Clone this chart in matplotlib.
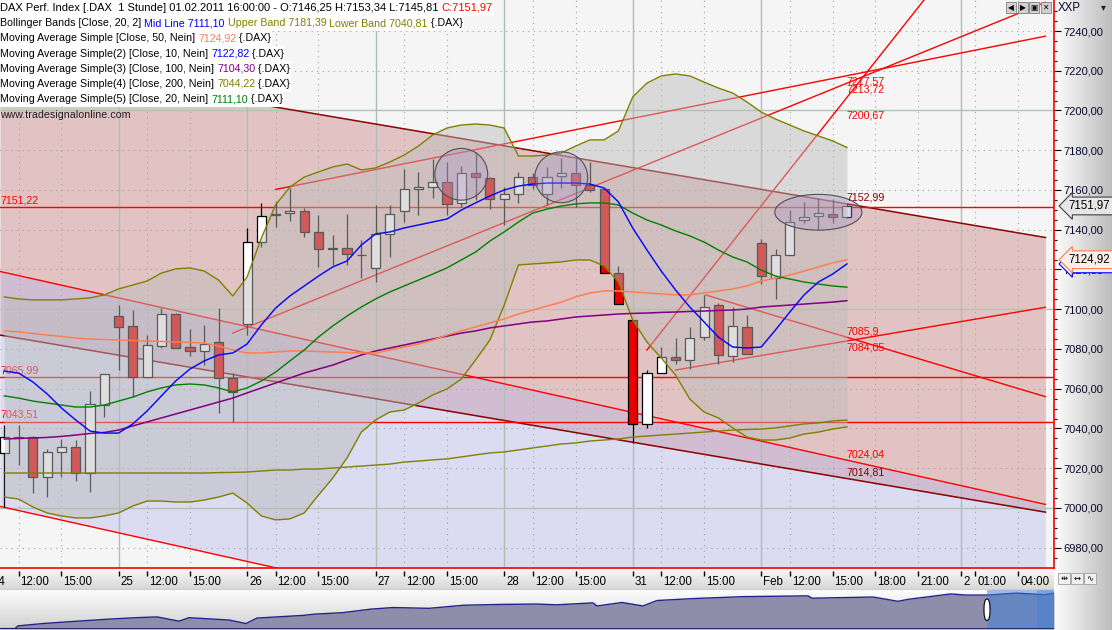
import matplotlib
matplotlib.use('Agg')
import matplotlib.pyplot as plt
import matplotlib.transforms as mtransforms
from matplotlib.patches import Ellipse, Rectangle, FancyBboxPatch
import numpy as np

FONT = 'Liberation Sans'
FS = 7.7
W, H = 1112, 630
plt.rcParams['font.family'] = [FONT, 'DejaVu Sans']

# hourly DAX candles, 24.01.2011 11:00 ... 01.02.2011 16:00 (bar index 0..59)
opens = [7027.5, 7035.9, 7035.9, 7015.4, 7028.0, 7030.5, 7017.5, 7051.8, 7096.6, 7091.6,
         7066.1, 7081.7, 7097.5, 7080.9, 7078.8, 7083.4, 7065.3, 7092.4, 7134.0, 7147.8,
         7148.3, 7149.4, 7139.0, 7130.6, 7130.7, 7127.4, 7120.6, 7137.7, 7149.4, 7160.4,
         7161.7, 7164.2, 7153.3, 7168.7, 7166.2, 7155.3, 7158.0, 7166.7, 7158.0, 7167.0,
         7168.4, 7162.5, 7160.4, 7118.4, 7094.6, 7042.1, 7067.8, 7076.1, 7074.5, 7085.9,
         7102.1, 7076.5, 7090.9, 7133.2, 7115.6, 7127.3, 7144.9, 7146.9, 7147.7, 7146.25]
highs = [7041.8, 7041.8, 7036.2, 7029.5, 7034.7, 7034.2, 7059.0, 7067.4, 7102.1, 7099.6,
         7087.0, 7100.5, 7098.1, 7090.1, 7092.1, 7100.6, 7068.1, 7140.7, 7153.6, 7154.1,
         7160.9, 7150.8, 7147.4, 7137.4, 7147.9, 7134.8, 7152.5, 7152.5, 7170.4, 7169.2,
         7175.5, 7174.2, 7172.1, 7179.3, 7166.7, 7161.4, 7168.9, 7168.4, 7171.7, 7175.9,
         7176.8, 7174.2, 7160.4, 7121.8, 7094.6, 7069.4, 7080.9, 7085.4, 7091.2, 7107.2,
         7103.0, 7101.3, 7097.1, 7135.2, 7130.2, 7149.9, 7154.1, 7155.8, 7155.3, 7153.34]
lows = [7000.7, 7021.6, 7007.4, 7005.4, 7015.4, 7013.7, 7008.2, 7045.9, 7069.4, 7055.7,
        7066.1, 7080.4, 7080.4, 7076.5, 7072.0, 7047.6, 7043.4, 7087.0, 7131.5, 7141.5,
        7144.6, 7136.5, 7121.4, 7122.3, 7122.3, 7115.6, 7113.9, 7126.4, 7144.1, 7147.4,
        7155.8, 7147.4, 7151.6, 7155.0, 7150.3, 7142.4, 7153.6, 7160.4, 7152.5, 7160.9,
        7151.3, 7159.2, 7118.4, 7102.6, 7032.6, 7040.1, 7067.8, 7072.5, 7069.8, 7084.5,
        7072.5, 7073.6, 7077.5, 7112.7, 7105.0, 7127.3, 7143.2, 7139.9, 7143.2, 7145.81]
closes = [7035.9, 7035.3, 7015.4, 7028.0, 7030.5, 7017.5, 7052.2, 7067.3, 7091.2, 7066.1,
          7081.9, 7097.5, 7080.7, 7078.8, 7082.5, 7065.3, 7058.5, 7134.0, 7146.9, 7147.6,
          7149.4, 7139.0, 7130.2, 7130.3, 7127.8, 7127.2, 7137.7, 7147.8, 7160.4, 7161.7,
          7164.2, 7153.0, 7168.7, 7166.4, 7155.3, 7157.8, 7166.7, 7162.5, 7166.7, 7168.4,
          7162.5, 7160.0, 7118.4, 7102.6, 7042.1, 7067.8, 7076.1, 7074.5, 7085.4, 7101.3,
          7077.0, 7091.6, 7077.5, 7116.7, 7127.1, 7144.1, 7146.6, 7148.3, 7146.6, 7151.97]

bb_upper = [7106.2, 7105.2, 7104.7, 7104.7, 7104.7, 7105.2, 7105.7, 7107.2, 7110.2, 7112.2,
            7114.2, 7118.2, 7120.3, 7120.8, 7119.2, 7114.7, 7106.7, 7116.2, 7135.8, 7152.5,
            7161.5, 7166.5, 7169.1, 7171.6, 7173.1, 7170.1, 7171.1, 7174.1, 7177.6, 7182.1,
            7187.7, 7191.2, 7192.7, 7193.2, 7192.7, 7191.2, 7177.1, 7177.1, 7177.6, 7178.6,
            7182.1, 7185.2, 7185.2, 7189.7, 7206.8, 7213.8, 7217.4, 7218.4, 7217.4, 7214.3,
            7211.3, 7208.8, 7204.3, 7199.2, 7195.7, 7192.7, 7189.7, 7187.2, 7184.7, 7181.39]
bb_lower = [7005.5, 7004.5, 7000.5, 6997.5, 6996.0, 6995.0, 6995.0, 6996.0, 6997.5, 7001.0,
            7003.5, 7003.5, 7003.0, 7003.0, 7004.0, 7005.5, 7007.5, 7002.5, 6996.0, 6994.0,
            6994.5, 6997.5, 7006.5, 7015.1, 7025.2, 7038.2, 7044.3, 7048.3, 7049.3, 7052.8,
            7056.9, 7059.9, 7064.9, 7074.5, 7084.5, 7102.0, 7122.3, 7122.8, 7123.3, 7123.8,
            7124.8, 7124.8, 7121.8, 7113.7, 7094.6, 7083.5, 7075.5, 7066.9, 7054.8, 7048.3,
            7045.3, 7040.3, 7035.7, 7034.2, 7034.2, 7035.2, 7037.2, 7038.2, 7039.7, 7040.81]
sma10 = [7068.9, 7067.9, 7063.4, 7057.4, 7050.3, 7044.3, 7038.7, 7037.7, 7037.7, 7042.3,
         7048.8, 7056.4, 7063.9, 7069.9, 7074.0, 7077.0, 7078.0, 7082.5, 7092.1, 7100.6,
         7106.7, 7111.7, 7116.7, 7121.3, 7124.3, 7132.3, 7137.9, 7138.9, 7140.9, 7142.4,
         7143.9, 7145.4, 7149.9, 7153.5, 7157.0, 7160.0, 7162.0, 7163.0, 7163.5, 7163.5,
         7163.5, 7163.0, 7161.0, 7154.0, 7140.9, 7129.8, 7119.2, 7109.7, 7101.1, 7093.6,
         7086.0, 7081.0, 7080.5, 7081.0, 7089.6, 7098.6, 7107.2, 7113.7, 7117.7, 7122.82]
sma20 = [7056.4, 7055.3, 7053.8, 7052.8, 7051.8, 7050.8, 7050.8, 7051.8, 7053.8, 7055.8,
         7058.4, 7060.4, 7061.9, 7062.4, 7061.9, 7060.4, 7058.4, 7060.4, 7063.9, 7068.4,
         7074.0, 7079.5, 7086.0, 7091.6, 7096.6, 7101.1, 7105.2, 7108.7, 7111.7, 7114.7,
         7117.7, 7120.8, 7124.8, 7128.8, 7134.3, 7138.9, 7143.9, 7148.4, 7150.4, 7151.9,
         7153.0, 7153.5, 7153.5, 7152.5, 7148.4, 7144.9, 7142.4, 7139.4, 7136.9, 7133.8,
         7129.8, 7126.3, 7123.8, 7119.7, 7116.7, 7115.2, 7113.7, 7112.7, 7111.7, 7111.10]
sma50 = [7089.1, 7088.6, 7087.8, 7087.0, 7086.3, 7085.5, 7085.0, 7084.8, 7084.5, 7084.3,
         7084.0, 7083.8, 7083.5, 7083.3, 7083.0, 7081.5, 7079.5, 7078.0, 7078.0, 7078.5,
         7079.0, 7079.0, 7078.7, 7078.5, 7078.2, 7078.0, 7078.0, 7079.5, 7081.0, 7082.5,
         7084.5, 7087.0, 7089.1, 7091.1, 7093.1, 7095.1, 7097.6, 7099.6, 7101.6, 7103.6,
         7106.2, 7108.2, 7109.2, 7109.2, 7108.7, 7108.2, 7107.7, 7107.2, 7107.2, 7108.2,
         7109.2, 7110.2, 7111.7, 7114.2, 7115.7, 7117.2, 7119.2, 7121.3, 7123.3, 7124.92]
sma100 = [7034.7, 7035.0, 7035.2, 7035.5, 7036.0, 7036.7, 7037.5, 7038.0, 7039.2, 7041.3,
          7043.3, 7045.3, 7047.3, 7049.3, 7051.3, 7053.3, 7055.3, 7057.9, 7060.4, 7062.9,
          7065.4, 7067.9, 7069.9, 7071.9, 7074.5, 7077.0, 7079.0, 7080.5, 7082.0, 7083.5,
          7085.0, 7086.5, 7088.0, 7089.1, 7090.6, 7091.6, 7092.6, 7093.6, 7094.1, 7095.1,
          7096.1, 7096.6, 7097.1, 7097.6, 7097.9, 7098.1, 7098.4, 7098.6, 7098.9, 7099.1,
          7099.4, 7099.6, 7100.1, 7101.1, 7101.6, 7102.1, 7102.6, 7103.1, 7103.6, 7104.30]
sma200 = [7017.6, 7017.6, 7017.6, 7017.6, 7017.6, 7017.6, 7017.6, 7017.6, 7017.6, 7017.6,
          7017.6, 7017.6, 7017.6, 7017.6, 7017.6, 7017.8, 7017.9, 7018.1, 7018.6, 7019.1,
          7019.1, 7019.6, 7019.6, 7020.1, 7020.6, 7021.1, 7021.6, 7022.1, 7023.1, 7023.6,
          7024.2, 7024.7, 7025.7, 7026.7, 7027.7, 7028.2, 7029.2, 7030.2, 7031.2, 7032.2,
          7032.7, 7033.7, 7034.2, 7034.7, 7035.7, 7036.2, 7036.7, 7037.2, 7037.7, 7038.2,
          7038.7, 7039.2, 7039.5, 7039.7, 7040.3, 7041.3, 7042.3, 7042.8, 7043.8, 7044.22]

# drawn trend lines: (bar_from, price_from, bar_to, price_to)
chan_pink = [(-0.3, 7225.2, 72.9, 7136.1), (-0.3, 7087.0, 72.9, 6997.9)]
chan_blue = [(-0.3, 7119.0, 72.9, 7001.8), (-0.3, 7000.8, 72.9, 6883.6)]
red_lines = [(19.0, 7160.3, 72.9, 7237.4), (16.0, 7088.0, 72.9, 7254.4),
             (45.0, 7079.5, 64.4, 7255.6), (49.1, 7107.2, 72.9, 7056.0),
             (47.0, 7069.4, 72.9, 7101.0)]
h_levels = [7151.22, 7065.99, 7043.51]
h_texts = ['7151,22', '7065,99', '7043,51']
# labels at the last bar: text, value, vertical alignment, colour
line_labels = [('7217,57', 7217.57, 'top', '#ff0000'), ('7213,72', 7213.72, 'top', '#ff0000'),
               ('7200,67', 7200.67, 'top', '#ff0000'), ('7152,99', 7152.99, 'bottom', '#8b0000'),
               ('7085,9', 7085.9, 'bottom', '#ff0000'), ('7084,05', 7084.05, 'top', '#ff0000'),
               ('7024,04', 7024.04, 'bottom', '#ff0000'), ('7014,81', 7014.81, 'bottom', '#8b0000')]
# marked zones: (bar, price, width in bars, height in points)
zones = [(32.0, 7167.9, 3.7, 26.0), (39.0, 7166.4, 3.7, 25.6), (57.0, 7148.8, 6.1, 18.0)]

tick_bars = [-1, 1, 4, 8, 10, 13, 17, 19, 22, 26, 28, 31, 35, 37, 40, 44, 46, 49, 53, 55, 58,
             61, 64, 67, 68, 71]
tick_text = ['24', '12:00', '15:00', '25', '12:00', '15:00', '26', '12:00', '15:00', '27', '12:00',
             '15:00', '28', '12:00', '15:00', '31', '12:00', '15:00', 'Feb', '12:00', '15:00',
             '18:00', '21:00', '2', '01:00', '04:00']

# navigator (whole history, arbitrary time units / scaled level)
nav_t = [0, 15, 18, 43, 71, 107, 136, 157, 179, 189, 229, 246, 257, 304, 314, 343, 371, 393, 429,
         464, 500, 536, 557, 593, 597, 622, 643, 657, 693, 743, 808, 812, 873, 898, 908, 951,
         966, 987, 1016, 1045, 1054]
nav_v = [1, 1, 8, 14, 19, 25, 29, 31, 20, 29, 23, 14, 28, 35, 38, 42, 51, 55, 53, 61, 63, 64,
         62, 67, 59, 68, 59, 73, 78, 83, 85, 79, 82, 71, 76, 90, 87, 87, 92, 88, 92]

fig = plt.figure(figsize=(W / 100, H / 100), dpi=100)
fig.patch.set_facecolor('#dcdcdc')


def box(x0, y0, x1, y1):
    return fig.add_axes([x0 / W, 1 - y1 / H, (x1 - x0) / W, (y1 - y0) / H])


# right price panel background
axr = box(1054, 0, W, H)
axr.imshow(np.linspace(0.99, 0.74, 60)[None, :], cmap='gray', vmin=0, vmax=1,
           aspect='auto', extent=(0, 1, 0, 1))
axr.axis('off')
axr.set_zorder(0)

ax = box(0, 0, 1054, 568)
ax.set_zorder(2)
ax.set_facecolor('#f5f5f5')
XL = (-0.3, 73.5)
ax.set_xlim(*XL)
ax.set_ylim(6969.8, 7255.6)

# channels
(a0, a1, a2, a3), (b0, b1, b2, b3) = chan_pink
ax.fill_between([a0, a2], [a1, a3], [b1, b3], color='#be6464', alpha=0.34, lw=0, zorder=1)
(c0, c1, c2, c3), (d0, d1, d2, d3) = chan_blue
ax.fill_between([c0, c2], [c1, c3], [d1, d3], color='#b4b4eb', alpha=0.39, lw=0, zorder=1.05)
for (x0, y0, x1, y1) in chan_pink:
    ax.plot([x0, x1], [y0, y1], color='#8b0000', lw=1.1, zorder=2)
for (x0, y0, x1, y1) in chan_blue + red_lines:
    ax.plot([x0, x1], [y0, y1], color='#ff0000', lw=1.0, zorder=2)

# grid
for v in range(6980, 7256, 20):
    if v % 100 == 0:
        ax.axhline(v, color='#b2c4b2', lw=1, zorder=1.2)
    else:
        ax.axhline(v, color='#a2a2a2', lw=0.8, ls=(0, (1, 4)), zorder=1.2)
for b, t in zip(tick_bars, tick_text):
    if ':' in t:
        ax.axvline(b, color='#a2a2a2', lw=0.8, ls=(0, (1, 4)), zorder=1.2)
    else:
        ax.axvline(b, color='#b2bcb2', lw=1, zorder=1.2)

for v, t in zip(h_levels, h_texts):
    ax.axhline(v, color='#ff0000', lw=1.0, zorder=2)
    ax.text(-0.3, v + 0.8, t, color='#ff0000', fontsize=FS, ha='left', va='bottom', zorder=2.2)

# candles
idx = np.arange(len(closes))
o = np.array(opens)
c = np.array(closes)
up = c >= o
ax.vlines(idx, lows, highs, color='black', lw=0.9, zorder=3)
ax.bar(idx, np.abs(c - o), bottom=np.minimum(o, c), width=0.64,
       color=np.where(up, 'white', '#e80000'), edgecolor='black', linewidth=0.9, zorder=3.1)

# bollinger bands and moving averages
ax.fill_between(idx, bb_lower, bb_upper, color='#bbbbbb', alpha=0.48, lw=0, zorder=4)
ax.plot(idx, bb_upper, color='#808000', lw=1, zorder=5)
ax.plot(idx, bb_lower, color='#808000', lw=1, zorder=5)
ax.plot(idx, sma200, color='#808000', lw=1, zorder=5)
ax.plot(idx, sma100, color='#800080', lw=1.1, zorder=5)
ax.plot(idx, sma50, color='#ff7f50', lw=1.1, zorder=5)
ax.plot(idx, sma20, color='#008000', lw=1, zorder=5)
ax.plot(idx, sma10, color='#0000ff', lw=1, zorder=5)

for (x, y, w, h) in zones:
    ax.add_patch(Ellipse((x, y), w, h, facecolor='#a898c8', alpha=0.35, edgecolor='none', zorder=6))
    ax.add_patch(Ellipse((x, y), w, h, facecolor='none', edgecolor='#505050', lw=0.8, zorder=6))

for t, v, va, col in line_labels:
    ax.text(59.0, v + (0.6 if va == 'bottom' else -0.6), t, color=col, fontsize=FS,
            ha='left', va=va, zorder=7)

# axis styling
ax.yaxis.tick_right()
yt = np.arange(6980, 7241, 20)
ax.set_yticks(yt)
ax.set_yticklabels([f"{v:.2f}".replace('.', ',') for v in yt])
ax.set_yticks(np.arange(6975, 7255, 5), minor=True)
ax.tick_params(axis='y', which='major', length=5, width=0.8, pad=2, labelsize=FS + 0.3,
               labelcolor='#0a0a2a', color='black')
ax.tick_params(axis='y', which='minor', length=2.5, width=0.8, color='black')
ax.set_xticks([])
for s in ['top', 'left']:
    ax.spines[s].set_visible(False)
for s in ['right', 'bottom']:
    ax.spines[s].set_color('#ff0000')
    ax.spines[s].set_linewidth(1.2)

# price markers on the scale
mk = mtransforms.blended_transform_factory(ax.transAxes, ax.transData)
ax.text(1.014, sma10[-1], f"{sma10[-1]:.2f}".replace('.', ','), transform=mk, fontsize=FS + 0.6,
        ha='left', va='center', zorder=8, clip_on=False,
        bbox=dict(boxstyle='larrow,pad=0.25', fc='#f2f2ff', ec='#0000ff', lw=0.8))
ax.text(1.014, sma50[-1], f"{sma50[-1]:.2f}".replace('.', ','), transform=mk, fontsize=FS + 0.6,
        ha='left', va='center', zorder=9, clip_on=False,
        bbox=dict(boxstyle='larrow,pad=0.25', fc='#fbeee8', ec='#ff7f50', lw=0.8))
ax.text(1.014, closes[-1], f"{closes[-1]:.2f}".replace('.', ','), transform=mk, fontsize=FS + 0.6,
        ha='left', va='center', zorder=9, clip_on=False,
        bbox=dict(boxstyle='larrow,pad=0.25', fc='#e6e6e6', ec='#404040', lw=0.8))

# time scale band
axx = box(0, 568, 1054, 590)
axx.imshow(np.linspace(0.97, 0.84, 30)[:, None], cmap='gray', vmin=0, vmax=1,
           aspect='auto', extent=(XL[0], XL[1], 0, 1))
axx.set_xlim(*XL)
axx.set_ylim(0, 1)
axx.vlines(tick_bars, 0.64, 0.87, color='black', lw=1)
off = mtransforms.offset_copy(axx.transData, fig=fig, x=2, y=0, units='dots')
for b, t in zip(tick_bars, tick_text):
    axx.text(b, 0.38, t, transform=off, fontsize=FS + 0.6, ha='left', va='center', clip_on=True)
axx.axhline(0.02, color='#a0a0a0', lw=1)
axx.axis('off')

# navigator
axn = box(0, 590, 1054, 629)
axn.imshow(np.linspace(0.99, 0.82, 30)[:, None], cmap='gray', vmin=0, vmax=1,
           aspect='auto', extent=(0, 1054, 0, 100))
axn.fill_between(nav_t, nav_v, 0, color='#8e8eaa', lw=0, zorder=2)
axn.plot(nav_t, nav_v, color='#23238a', lw=1, zorder=3)
axn.axvspan(987, 1054, color='#3d7fd6', alpha=0.5, lw=0, zorder=4)
axn.axvspan(1037, 1054, color='#3d7fd6', alpha=0.35, lw=0, zorder=4)
axn.add_patch(FancyBboxPatch((984, 22), 6, 55, boxstyle='round,pad=0,rounding_size=3',
                             fc='white', ec='black', lw=0.8, zorder=5, mutation_aspect=8))
axn.axhline(1, color='#1a1a6a', lw=1.2, zorder=5)
axn.set_xlim(0, 1054)
axn.set_ylim(0, 100)
axn.axis('off')

# legend block
renderer = fig.canvas.get_renderer()


def width(s, fs):
    t = fig.text(0, 0, s, fontsize=fs)
    w = t.get_window_extent(renderer).width
    t.remove()
    return w


legend = [
    [("DAX Perf. Index [.DAX  1 Stunde] 01.02.2011 16:00:00 - O:7146,25 H:7153,34 L:7145,81 ", 'black'),
     ("C:7151,97", '#ff0000')],
    [("Bollinger Bands [Close, 20, 2] ", 'black'), ("Mid Line 7111,10", '#0000ff'),
     (" Upper Band 7181,39", '#808000'), (" Lower Band 7040,81", '#808000'), (" {.DAX}", 'black')],
    [("Moving Average Simple [Close, 50, Nein] ", 'black'), ("7124,92", '#ff7f50'), (" {.DAX}", 'black')],
    [("Moving Average Simple(2) [Close, 10, Nein] ", 'black'), ("7122,82", '#0000ff'), (" {.DAX}", 'black')],
    [("Moving Average Simple(3) [Close, 100, Nein] ", 'black'), ("7104,30", '#800080'), (" {.DAX}", 'black')],
    [("Moving Average Simple(4) [Close, 200, Nein] ", 'black'), ("7044,22", '#808000'), (" {.DAX}", 'black')],
    [("Moving Average Simple(5) [Close, 20, Nein] ", 'black'), ("7111,10", '#008000'), (" {.DAX}", 'black')],
]
for k, segs in enumerate(legend):
    fs = FS * 1.04 if k == 0 else FS
    wX = width('X', fs)
    yc = 8 + 15.2 * k
    full = ''.join(s for s, _ in segs)
    fig.patches.append(Rectangle((0, 1 - (yc + 7.5) / H), (width(full, fs) + 1) / W, 15 / H,
                                 transform=fig.transFigure, fc='white', ec='none', zorder=19))
    prefix = ''
    for s, col in segs:
        x = 0 if not prefix else width(prefix + 'X', fs) - wX
        fig.text(x / W, 1 - yc / H, s, color=col, fontsize=fs, ha='left', va='center', zorder=20)
        prefix += s
fig.text(0, 1 - 115 / H, "www.tradesignalonline.com", color='#202020', fontsize=FS,
         ha='left', va='center', zorder=20)

# header of the price scale
fig.text(1058 / W, 1 - 8 / H, "XXP", fontsize=FS + 0.6, color='#0a0a2a', ha='left', va='center')
fig.text(1101 / W, 1 - 7 / H, "\u25BE", fontsize=7, color='#202020', ha='left', va='center')
for i, sym in enumerate(['\u25C0', '\u25B6', '\u25A3', '\u2715']):
    xb = 1006 + 11.5 * i
    fig.patches.append(Rectangle((xb / W, 1 - 13 / H), 10 / W, 11 / H, transform=fig.transFigure,
                                 fc='#d0d0d0', ec='#808080', lw=0.6, zorder=21))
    fig.text((xb + 5) / W, 1 - 7.5 / H, sym, fontsize=5.5, color='black', ha='center',
             va='center', zorder=22, family='DejaVu Sans')
for i in range(3):
    xb = 1058 + 13 * i
    fig.patches.append(Rectangle((xb / W, 1 - 584 / H), 12 / W, 11 / H, transform=fig.transFigure,
                                 fc='#f0f0f0', ec='#a0a0a0', lw=0.6, zorder=21))
    fig.text((xb + 6) / W, 1 - 578.5 / H, ['\u21F9', '\u2194', '\u223F'][i], fontsize=6,
             color='black', ha='center', va='center', zorder=22, family='DejaVu Sans')

fig.savefig('out.png', dpi=100, facecolor=fig.get_facecolor())
